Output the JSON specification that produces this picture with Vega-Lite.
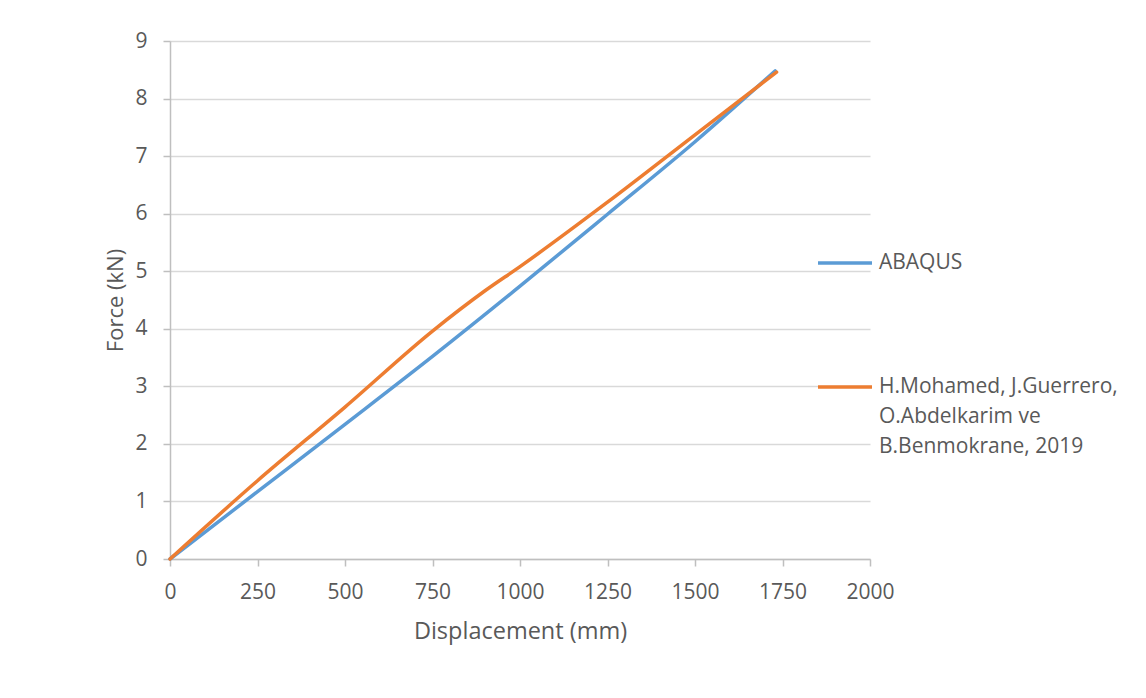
{
  "$schema": "https://vega.github.io/schema/vega-lite/v6.json",
  "width": 700,
  "height": 518,
  "autosize": "none",
  "padding": {"left": 170, "top": 41, "right": 276, "bottom": 139},
  "background": "#ffffff",
  "config": {
    "font": "Open Sans",
    "view": {"stroke": null},
    "axis": {
      "labelFont": "Open Sans",
      "labelFontSize": 21,
      "labelColor": "#595959",
      "titleFont": "Open Sans",
      "titleFontWeight": "normal",
      "titleColor": "#595959",
      "domainColor": "#bfbfbf",
      "domainWidth": 1.5,
      "tickColor": "#bfbfbf",
      "tickWidth": 1.5,
      "gridColor": "#d9d9d9",
      "gridWidth": 1.5
    }
  },
  "data": {
    "values": [
      {"disp": 0, "force": 0, "series": "ABAQUS"},
      {"disp": 250, "force": 1.17, "series": "ABAQUS"},
      {"disp": 500, "force": 2.34, "series": "ABAQUS"},
      {"disp": 750, "force": 3.52, "series": "ABAQUS"},
      {"disp": 1000, "force": 4.74, "series": "ABAQUS"},
      {"disp": 1250, "force": 5.99, "series": "ABAQUS"},
      {"disp": 1500, "force": 7.25, "series": "ABAQUS"},
      {"disp": 1729, "force": 8.48, "series": "ABAQUS"},
      {"disp": 0, "force": 0, "series": "H.Mohamed, J.Guerrero,\nO.Abdelkarim ve\nB.Benmokrane, 2019"},
      {"disp": 250, "force": 1.36, "series": "H.Mohamed, J.Guerrero,\nO.Abdelkarim ve\nB.Benmokrane, 2019"},
      {"disp": 500, "force": 2.64, "series": "H.Mohamed, J.Guerrero,\nO.Abdelkarim ve\nB.Benmokrane, 2019"},
      {"disp": 750, "force": 3.96, "series": "H.Mohamed, J.Guerrero,\nO.Abdelkarim ve\nB.Benmokrane, 2019"},
      {"disp": 900, "force": 4.66, "series": "H.Mohamed, J.Guerrero,\nO.Abdelkarim ve\nB.Benmokrane, 2019"},
      {"disp": 1000, "force": 5.08, "series": "H.Mohamed, J.Guerrero,\nO.Abdelkarim ve\nB.Benmokrane, 2019"},
      {"disp": 1250, "force": 6.2, "series": "H.Mohamed, J.Guerrero,\nO.Abdelkarim ve\nB.Benmokrane, 2019"},
      {"disp": 1500, "force": 7.37, "series": "H.Mohamed, J.Guerrero,\nO.Abdelkarim ve\nB.Benmokrane, 2019"},
      {"disp": 1733, "force": 8.46, "series": "H.Mohamed, J.Guerrero,\nO.Abdelkarim ve\nB.Benmokrane, 2019"}
    ]
  },
  "mark": {"type": "line", "interpolate": "monotone", "strokeWidth": 3.5, "strokeCap": "round"},
  "encoding": {
    "x": {
      "field": "disp",
      "type": "quantitative",
      "scale": {"domain": [0, 2000], "nice": false},
      "axis": {
        "title": "Displacement (mm)",
        "titleFontSize": 23.5,
        "format": "d",
        "values": [0, 250, 500, 750, 1000, 1250, 1500, 1750, 2000],
        "grid": false,
        "tickSize": 7,
        "labelPadding": 15,
        "titlePadding": 17,
        "labelFlush": false
      }
    },
    "y": {
      "field": "force",
      "type": "quantitative",
      "scale": {"domain": [0, 9], "nice": false},
      "axis": {
        "title": "Force (kN)",
        "titleFontSize": 22,
        "values": [0, 1, 2, 3, 4, 5, 6, 7, 8, 9],
        "tickSize": 7,
        "labelPadding": 16,
        "titlePadding": 7,
        "labelFlush": false
      }
    },
    "color": {
      "field": "series",
      "type": "nominal",
      "scale": {"range": ["#5b9bd5", "#ed7d31"]},
      "legend": {
        "title": null,
        "orient": "none",
        "legendX": 646,
        "legendY": 193,
        "padding": 0,
        "symbolType": "stroke",
        "symbolSize": 2916,
        "symbolStrokeWidth": 3.5,
        "labelFont": "Open Sans",
        "labelFontSize": 21,
        "labelColor": "#595959",
        "labelOffset": 5,
        "labelLimit": 0,
        "labelBaseline": "middle",
        "labelExpr": "split(datum.label, '\\n')",
        "rowPadding": 85,
        "encode": {"labels": {"update": {"lineHeight": {"value": 30}}}}
      }
    }
  }
}
